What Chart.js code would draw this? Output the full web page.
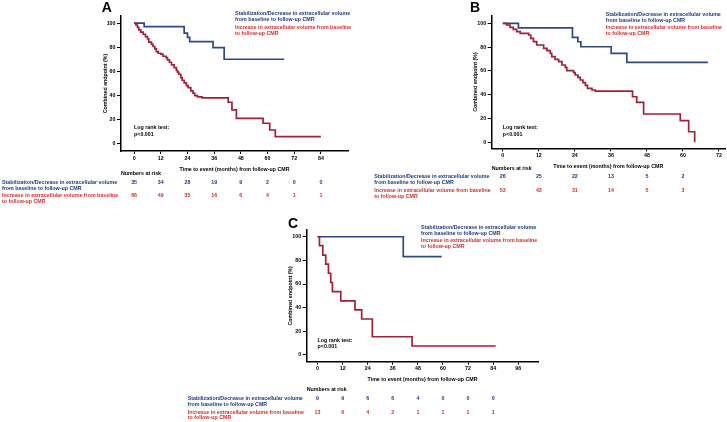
<!DOCTYPE html>
<html>
<head>
<meta charset="utf-8">
<script src="https://cdn.jsdelivr.net/npm/chart.js@4.4.1/dist/chart.umd.min.js"></script>
<style>
  html, body { margin: 0; padding: 0; background: #fff; }
  body { width: 727px; height: 422px; position: relative; overflow: hidden; }
  canvas { position: absolute; }
</style>
</head>
<body>
<canvas id="chartA" width="360" height="205" style="left:0;top:0"></canvas>
<canvas id="chartB" width="365" height="205" style="left:362px;top:0"></canvas>
<canvas id="chartC" width="370" height="207" style="left:180px;top:215px"></canvas>
<script>
// shared labels
const labelBlue = ['Stabilization/Decrease in extracellular volume', 'from baseline to follow-up CMR'];
const labelRed = ['Increase in extracellular volume from baseline', 'to follow-up CMR'];
const yTicks = [0, 20, 40, 60, 80, 100];

// panel A
const aTicks = [0, 12, 24, 36, 48, 60, 72, 84];
const aBlueTime = [0, 4.5, 22.5, 24, 25, 35.5, 40.5, 67.5];
const aBlueSurv = [100, 97.1, 91.7, 88.2, 84.7, 79.7, 70, 70];
const aRedTime = [0, 0.8, 1.5, 2.1, 3.0, 4.1, 5.1, 6.0, 6.6, 7.8, 8.5, 9.3, 10.0, 10.8, 12.0, 13.0, 14.4, 15.0, 15.9, 16.8, 18.0, 19.0, 19.5, 20.1, 21.0, 21.6, 22.5, 23.5, 24.3, 25.5, 26.5, 27.3, 28.5, 30.6, 42.3, 44.0, 46.0, 58.0, 61.0, 63.5, 84];
const aRedSurv = [100, 98.5, 96.6, 94.4, 92.5, 90.8, 88.9, 86.9, 84.2, 82.5, 80.6, 78.6, 76.4, 75.0, 74.2, 72.5, 71.4, 69.4, 67.5, 65.3, 63.1, 60.8, 59.2, 57.5, 54.7, 52.5, 50.3, 48.1, 46.4, 43.6, 41.7, 39.7, 38.6, 37.9, 34.2, 27.9, 20.8, 16.7, 11.1, 5.6, 5.6];
const aRiskTicks = [0, 12, 24, 36, 48, 60, 72, 84];
const aRiskBlue = [35, 34, 28, 19, 9, 2, 0, 0];
const aRiskRed = [66, 49, 35, 16, 6, 4, 1, 1];

// panel B
const bTicks = [0, 12, 24, 36, 48, 60, 72];
const bBlueTime = [0, 5.2, 23.2, 25, 26, 36.1, 41.3, 68.3];
const bBlueSurv = [100, 96.2, 88.2, 84.5, 80.3, 74.8, 67.2, 67.2];
const bRedTime = [0, 1.3, 2.4, 3.5, 4.6, 5.8, 8.6, 9.3, 10.2, 11.3, 13.6, 14.7, 15.8, 16.3, 17.4, 18.6, 19.7, 20.8, 21.3, 23.6, 24.1, 25.0, 25.8, 26.7, 27.5, 28.2, 29.7, 30.8, 43.2, 44.6, 46.9, 59.1, 61.9, 63.9];
const bRedSurv = [100, 98.6, 96.6, 94.9, 93.0, 91.6, 90.2, 87.4, 84.6, 81.8, 79.0, 77.0, 74.8, 72.0, 69.7, 67.8, 65.0, 63.0, 60.2, 58.5, 56.6, 54.6, 52.4, 50.1, 47.9, 45.4, 44.0, 43.1, 38.3, 33.6, 23.8, 18.2, 8.9, 0];
const bRiskTicks = [0, 12, 24, 36, 48, 60];
const bRiskBlue = [26, 25, 22, 13, 5, 2];
const bRiskRed = [53, 43, 31, 14, 5, 3];

// panel C
const cTicks = [0, 12, 24, 36, 48, 60, 72, 84, 96];
const cBlueTime = [0, 41, 59.4];
const cBlueSurv = [100, 83.2, 83.2];
const cRedTime = [0, 0.9, 2.5, 3.9, 5.2, 6.3, 7.1, 11.1, 17.9, 21.1, 26.2, 45.2, 85.2];
const cRedSurv = [100, 92.4, 84.5, 76.8, 69.1, 61.3, 53.6, 45.8, 38.2, 30.4, 15.4, 7.6, 7.6];
const cRiskTicks = [0, 12, 24, 36, 48, 60, 72, 84];
const cRiskBlue = [9, 9, 6, 6, 4, 0, 0, 0];
const cRiskRed = [13, 6, 4, 2, 1, 1, 1, 1];

const blueLine = '#2d4a86';
const redLine = '#a3203a';
const blueText = '#1f3a7d';
const redText = '#d4302c';
const fam = '"Liberation Sans", Arial, sans-serif';
const small = { family: fam, size: 5.3, weight: 'bold' };

const pts = (t, s) => t.map((v, i) => ({ x: v, y: s[i] }));

// letters, legend, log rank and numbers-at-risk table
const annot = {
  id: 'annot',
  afterDraw(chart, args, o) {
    const { ctx, chartArea: ca } = chart;
    const xs = chart.scales.x;
    const f = `bold ${small.size}px ${fam}`;
    ctx.save();
    ctx.fillStyle = '#000';
    ctx.font = `bold 14px ${fam}`;
    ctx.textBaseline = 'alphabetic';
    ctx.fillText(o.letter, o.letterX, o.letterY);

    ctx.font = f;
    ctx.textBaseline = 'middle';
    ctx.textAlign = 'left';
    ctx.fillStyle = blueText;
    ctx.fillText(labelBlue[0], o.legX, o.legY[0]);
    ctx.fillText(labelBlue[1], o.legX, o.legY[1]);
    ctx.fillStyle = redText;
    ctx.fillText(labelRed[0], o.legX, o.legY[2]);
    ctx.fillText(labelRed[1], o.legX, o.legY[3]);

    ctx.fillStyle = '#000';
    const x0 = xs.getPixelForValue(0);
    ctx.fillText('Log rank test:', x0, o.logY[0]);
    ctx.fillText('p<0.001', x0, o.logY[1]);
    ctx.fillText('Numbers at risk', ca.left, o.narY);

    ctx.fillStyle = blueText;
    ctx.fillText(labelBlue[0], o.rowX, o.row1Y[0]);
    ctx.fillText(labelBlue[1], o.rowX, o.row1Y[1]);
    ctx.fillStyle = redText;
    ctx.fillText(labelRed[0], o.rowX, o.row2Y[0]);
    ctx.fillText(labelRed[1], o.rowX, o.row2Y[1]);

    ctx.textAlign = 'center';
    o.riskTicks.forEach((t, i) => {
      const px = xs.getPixelForValue(t);
      ctx.fillStyle = blueText;
      ctx.fillText(String(o.riskBlue[i]), px, o.row1Y[0]);
      ctx.fillStyle = redText;
      ctx.fillText(String(o.riskRed[i]), px, o.row2Y[0]);
    });
    ctx.restore();
  }
};

function kmChart(id, p) {
  return new Chart(document.getElementById(id), {
    type: 'scatter',
    data: {
      datasets: [
        { data: pts(p.redTime, p.redSurv), borderColor: redLine, borderWidth: 1.7, showLine: true, stepped: true, pointRadius: 0, fill: false },
        { data: pts(p.blueTime, p.blueSurv), borderColor: blueLine, borderWidth: 1.7, showLine: true, stepped: true, pointRadius: 0, fill: false }
      ]
    },
    options: {
      responsive: false,
      animation: false,
      events: [],
      layout: { padding: p.pad },
      plugins: { legend: { display: false }, tooltip: { enabled: false }, annot: p },
      scales: {
        x: {
          type: 'linear', min: p.xMin, max: p.xMax,
          afterBuildTicks: s => { s.ticks = p.xTicks.map(v => ({ value: v })); },
          afterFit: s => { s.height = 21.5; },
          grid: { drawOnChartArea: false, color: '#000', tickLength: 3, lineWidth: 1 },
          border: { color: '#000', width: 1.5 },
          ticks: { font: small, color: '#000', padding: 1, maxRotation: 0, autoSkip: false },
          title: { display: true, text: 'Time to event (months) from follow-up CMR', font: small, color: '#000', padding: 0 }
        },
        y: {
          type: 'linear', min: p.yMin, max: p.yMax,
          afterBuildTicks: s => { s.ticks = yTicks.map(v => ({ value: v })); },
          afterFit: s => { s.width = 19; },
          grid: { drawOnChartArea: false, color: '#000', tickLength: 4, lineWidth: 1 },
          border: { color: '#000', width: 1.5 },
          ticks: { font: small, color: '#000', padding: 1.5 },
          title: { display: true, text: 'Combined endpoint (%)', font: small, color: '#000', padding: 0 }
        }
      }
    },
    plugins: [annot]
  });
}

kmChart('chartA', {
  blueTime: aBlueTime, blueSurv: aBlueSurv, redTime: aRedTime, redSurv: aRedSurv,
  xTicks: aTicks, riskTicks: aRiskTicks, riskBlue: aRiskBlue, riskRed: aRiskRed,
  xMin: -5.9, xMax: 96.2, yMin: -6.4, yMax: 106,
  pad: { left: 102, top: 16, right: 12, bottom: 32.5 },
  letter: 'A', letterX: 101.7, letterY: 11.7,
  legX: 235, legY: [13.7, 20, 28, 34],
  logY: [127.7, 135], narY: 174,
  rowX: 2, row1Y: [183, 189], row2Y: [195.5, 201.5]
});

kmChart('chartB', {
  blueTime: bBlueTime, blueSurv: bBlueSurv, redTime: bRedTime, redSurv: bRedSurv,
  xTicks: bTicks, riskTicks: bRiskTicks, riskBlue: bRiskBlue, riskRed: bRiskRed,
  xMin: -3.7, xMax: 74, yMin: -5, yMax: 106.4,
  pad: { left: 110.7, top: 15.7, right: 2, bottom: 35.2 },
  letter: 'B', letterX: 108, letterY: 11.7,
  legX: 243.7, legY: [14.3, 20.3, 28, 34],
  logY: [127.7, 135], narY: 168.3,
  rowX: 12.3, row1Y: [176.7, 182.7], row2Y: [190.7, 196.7]
});

kmChart('chartC', {
  blueTime: cBlueTime, blueSurv: cBlueSurv, redTime: cRedTime, redSurv: cRedSurv,
  xTicks: cTicks, riskTicks: cRiskTicks, riskBlue: cRiskBlue, riskRed: cRiskRed,
  xMin: -5.2, xMax: 105.6, yMin: -5.7, yMax: 105.7,
  pad: { left: 107.7, top: 15, right: 11.7, bottom: 38.8 },
  letter: 'C', letterX: 108, letterY: 13.3,
  legX: 241, legY: [12.5, 18.5, 25.5, 31.5],
  logY: [125.7, 131.7], narY: 175,
  rowX: 7.7, row1Y: [184, 189.3], row2Y: [197.3, 202.7]
});
</script>
</body>
</html>
